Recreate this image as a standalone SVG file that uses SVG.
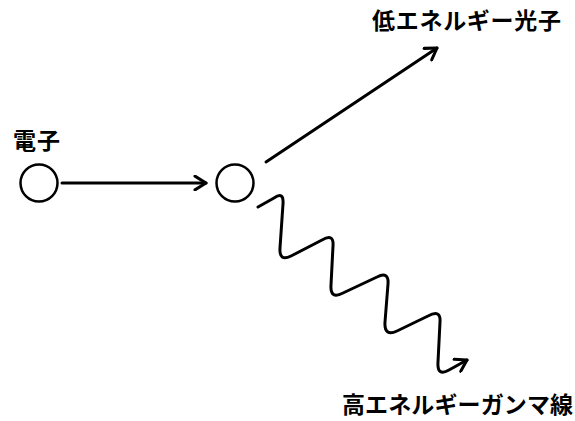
<svg xmlns="http://www.w3.org/2000/svg" width="575" height="421" viewBox="0 0 575 421">
<style>
.node{fill:#fff;stroke:#000;stroke-width:2.5}
.conn{fill:none;stroke:#000;stroke-width:3;stroke-linecap:round;stroke-linejoin:round}
.lbl{font-family:"Noto Sans CJK JP","Noto Sans CJK SC",sans-serif;font-weight:bold;font-size:23px;fill:#000}
</style>
<defs>
<marker id="arr" viewBox="0 0 12 12" refX="10" refY="6" markerWidth="5.5" markerHeight="5.5" markerUnits="strokeWidth" orient="auto">
<path d="M2,1 L10,6 L2,11" fill="none" stroke="#000" stroke-width="2.2" stroke-linecap="round" stroke-linejoin="round"/>
</marker>
</defs>
<rect width="575" height="421" fill="#fff"/>
<g id="connectors">
<line class="conn" x1="62" y1="183" x2="206" y2="183" marker-end="url(#arr)"/>
<line class="conn" x1="266" y1="162" x2="437" y2="48" marker-end="url(#arr)"/>
<path class="conn" d="M258,207 L274,198 Q284,191 283,204 L280,248 Q279,262 291,256 L322,240 Q334,233 333,246 L331,285 Q330,300 343,293 L377,277 Q389,271 388,284 L385,322 Q384,337 397,331 L428,316 Q441,309 440,322 L438,362 Q437,377 449,370 L467,360" marker-end="url(#arr)"/>
</g>
<g id="electron">
<circle class="node" cx="39" cy="183" r="18.5"/>
<text class="lbl" x="13" y="149" textLength="47">電子</text>
</g>
<g id="target">
<circle class="node" cx="235" cy="183" r="18.5"/>
</g>
<g id="photon">
<text class="lbl" x="372" y="29" textLength="189">低エネルギー光子</text>
</g>
<g id="gamma">
<text class="lbl" x="342" y="413" textLength="231">高エネルギーガンマ線</text>
</g>
</svg>
